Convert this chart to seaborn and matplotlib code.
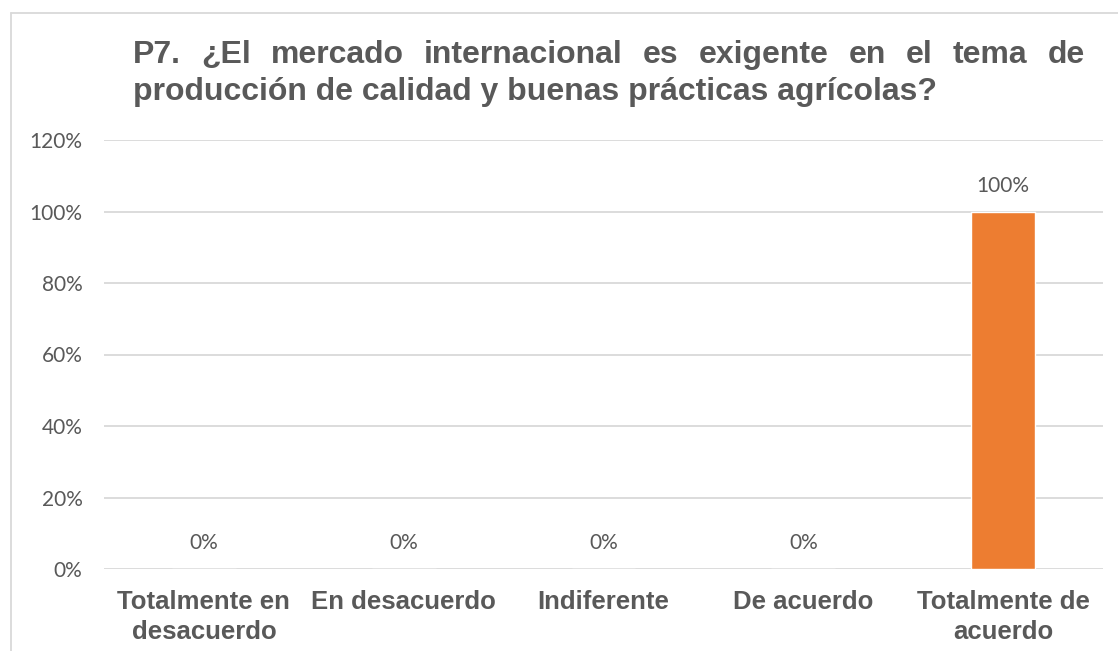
import matplotlib
matplotlib.use("Agg")
import matplotlib.pyplot as plt
import seaborn as sns
import pandas as pd
from matplotlib.lines import Line2D
from matplotlib.ticker import FuncFormatter

categories = ["Totalmente en\ndesacuerdo", "En desacuerdo", "Indiferente", "De acuerdo", "Totalmente de\nacuerdo"]
values = [0, 0, 0, 0, 100]
value_labels = ["0%", "0%", "0%", "0%", "100%"]
title_lines = ["P7. ¿El mercado internacional es exigente en el tema de",
               "producción de calidad y buenas prácticas agrícolas?"]

sns.set_theme(style="white")
plt.rcParams['font.family'] = ['Liberation Sans', 'DejaVu Sans']

W, H = 1118, 651
fig = plt.figure(figsize=(W / 100, H / 100), dpi=100)
ax = fig.add_axes([104 / W, 1 - 569 / H, (1103 - 104) / W, (569 - 140) / H])

df = pd.DataFrame({"cat": categories, "val": values})
sns.barplot(data=df, x="cat", y="val", color="#ED7D31", width=0.32, ax=ax, saturation=1)

ax.set_ylim(0, 120)
ax.set_xlim(-0.5, len(categories) - 0.5)
ax.set_yticks([0, 20, 40, 60, 80, 100, 120])
ax.yaxis.set_major_formatter(FuncFormatter(lambda v, p: f"{int(v)}%"))
ax.grid(axis="y", color="#d9d9d9", linewidth=1.3)
ax.set_axisbelow(True)
for s in ax.spines.values():
    s.set_visible(False)
ax.set_xlabel("")
ax.set_ylabel("")
ax.tick_params(axis="y", length=0, pad=15.5, labelcolor="#595959")
ax.tick_params(axis="x", length=0, pad=15, labelcolor="#595959")
for lab in ax.get_yticklabels():
    lab.set_fontfamily(["Lato", "DejaVu Sans"])
    lab.set_fontsize(15)
for lab in ax.get_xticklabels():
    lab.set_fontfamily(["Liberation Sans", "DejaVu Sans"])
    lab.set_fontsize(18.5)
    lab.set_fontweight("bold")
    lab.set_linespacing(1.3)

for i, (v, t) in enumerate(zip(values, value_labels)):
    ax.annotate(t, xy=(i, v), xytext=(0, 18.5), textcoords="offset points",
                ha="center", va="center", fontsize=15, color="#595959",
                fontfamily=["Lato", "DejaVu Sans"])

# title: first line justified between x0 and x1, second line left aligned
TS = 23
x0, x1 = 133, 1085
words = title_lines[0].split(" ")
renderer = fig.canvas.get_renderer()
texts = []
for w in words:
    t = fig.text(0, 1 - 63 / H, w, fontsize=TS, fontweight="bold",
                 color="#595959", ha="left", va="baseline")
    texts.append(t)
widths = [t.get_window_extent(renderer).width for t in texts]
gap = (x1 - x0 - sum(widths)) / (len(words) - 1)
x = x0
for t, wd in zip(texts, widths):
    t.set_x(x / W)
    x += wd + gap
fig.text(x0 / W, 1 - 100 / H, title_lines[1], fontsize=TS, fontweight="bold",
         color="#595959", ha="left", va="baseline")

# chart border (top and left visible)
fig.add_artist(Line2D([11 / W, 11 / W], [0, 1 - 13 / H], transform=fig.transFigure,
                      color="#d9d9d9", linewidth=1.3))
fig.add_artist(Line2D([11 / W, 1], [1 - 13 / H, 1 - 13 / H], transform=fig.transFigure,
                      color="#d9d9d9", linewidth=1.3))

fig.savefig("out.png", dpi=100)
